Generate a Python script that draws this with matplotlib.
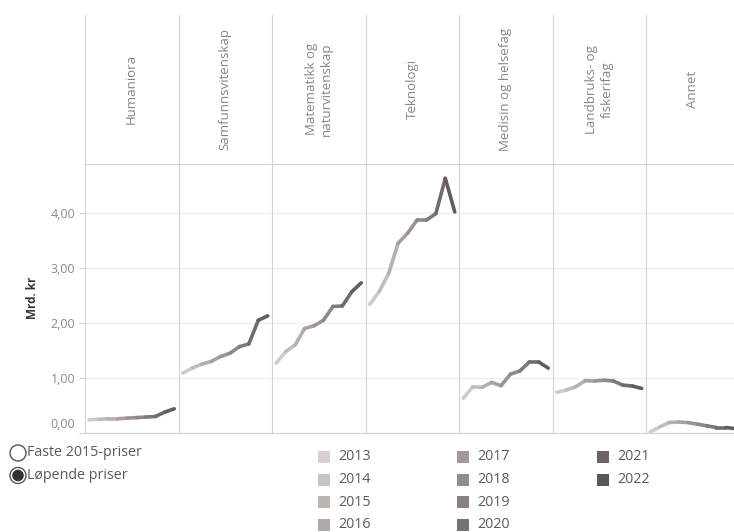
import numpy as np
import matplotlib.pyplot as plt
import matplotlib.colors as mcolors
from matplotlib.collections import LineCollection
from matplotlib.patches import Circle, Rectangle
from matplotlib.transforms import ScaledTranslation

plt.rcParams['font.family'] = ['Open Sans', 'DejaVu Sans']

# data (Mrd. kr, løpende priser)
years = ["2013", "2014", "2015", "2016", "2017", "2018", "2019", "2020", "2021", "2022"]
year_colors = ["#d8d0cd", "#cbc3c0", "#bdb5b2", "#b0a8a5", "#a39a98",
               "#958d8b", "#88807e", "#7a7271", "#6c6463", "#5e5655"]
fields = ["Humaniora", "Samfunnsvitenskap", "Matematikk og\nnaturvitenskap", "Teknologi",
          "Medisin og helsefag", "Landbruks- og\nfiskerifag", "Annet"]

humaniora = [0.24, 0.25, 0.26, 0.26, 0.27, 0.28, 0.29, 0.30, 0.38, 0.44]
samfunn = [1.09, 1.18, 1.25, 1.30, 1.39, 1.45, 1.57, 1.62, 2.05, 2.13]
matnat = [1.27, 1.48, 1.60, 1.90, 1.95, 2.05, 2.30, 2.31, 2.57, 2.73]
teknologi = [2.34, 2.57, 2.90, 3.45, 3.63, 3.87, 3.87, 3.99, 4.63, 4.02]
medisin = [0.63, 0.84, 0.83, 0.92, 0.86, 1.07, 1.13, 1.29, 1.29, 1.18]
landbruk = [0.74, 0.78, 0.84, 0.95, 0.945, 0.96, 0.945, 0.87, 0.855, 0.81]
annet = [0.02, 0.11, 0.19, 0.20, 0.19, 0.16, 0.13, 0.10, 0.10, 0.08]
values = [humaniora, samfunn, matnat, teknologi, medisin, landbruk, annet]

yticks = [0, 1, 2, 3, 4]
ytick_labels = ["0,00", "1,00", "2,00", "3,00", "4,00"]
price_options = ["Faste 2015-priser", "Løpende priser"]

W, H = 734, 532
fig = plt.figure(figsize=(W / 100, H / 100), dpi=100)


def fx(px):
    return px / W


def fy(py):
    return 1 - py / H


left0, pw = 85, 93.5
head_top, head_bot, plot_bot = 15, 163.5, 433
px_per_unit = 55
line_c = "#d4d4d4"
grid_c = "#efefef"

for i, (name, vals) in enumerate(zip(fields, values)):
    x0 = left0 + i * pw

    # header cell
    hax = fig.add_axes([fx(x0), fy(head_bot), pw / W, (head_bot - head_top) / H])
    hax.set_xticks([])
    hax.set_yticks([])
    for s in ["top", "right", "bottom"]:
        hax.spines[s].set_visible(False)
    hax.spines["left"].set_color(line_c)
    hax.text(0.5, 0.5, name, rotation=90, ha="center", va="center",
             multialignment="center", fontsize=9.5, color="#858585",
             linespacing=1.25, transform=hax.transAxes)

    # plot cell
    ax = fig.add_axes([fx(x0), fy(plot_bot), pw / W, (plot_bot - head_bot) / H])
    ax.set_xlim(-0.45, 9.45)
    ax.set_ylim(0, (plot_bot - head_bot) / px_per_unit)
    ax.set_xticks([])
    ax.set_yticks(yticks)
    ax.grid(axis="y", color=grid_c, lw=1)
    ax.set_axisbelow(True)
    ax.spines["right"].set_visible(False)
    for s in ["top", "left", "bottom"]:
        ax.spines[s].set_color(line_c)

    pts = np.column_stack([np.arange(len(vals)), vals])
    segs = np.stack([pts[:-1], pts[1:]], axis=1)
    seg_cols = [(np.array(mcolors.to_rgb(year_colors[k])) +
                 np.array(mcolors.to_rgb(year_colors[k + 1]))) / 2
                for k in range(len(vals) - 1)]
    lc = LineCollection(segs, colors=seg_cols, linewidths=2.6,
                        capstyle="round", joinstyle="round")
    ax.add_collection(lc)

    if i == 0:
        ax.set_yticklabels(ytick_labels, fontsize=9, color="#8a8a8a")
        ax.tick_params(axis="y", length=4, color=line_c, pad=3)
        lab0 = ax.get_yticklabels()[0]
        lab0.set_transform(lab0.get_transform() + ScaledTranslation(0, 0.1, fig.dpi_scale_trans))
        ax.set_ylabel("Mrd. kr", fontsize=8.5, fontweight="bold", color="#333333", labelpad=8)
    else:
        ax.tick_params(axis="y", length=0, labelleft=False)

# legend overlay in pixel coordinates
lax = fig.add_axes([0, 0, 1, 1])
lax.set_xlim(0, W)
lax.set_ylim(H, 0)
lax.axis("off")

for j, opt in enumerate(price_options):
    cy = 453 + j * 22.5
    lax.add_patch(Circle((18, cy), 8, fill=False, ec="#555555", lw=1))
    if j == 1:
        lax.add_patch(Circle((18, cy), 5.8, fc="#333333", ec="none"))
    lax.text(27, cy, opt, fontsize=10.3, color="#5a5a5a", va="center", ha="left")

col_x = [318, 457, 597]
for k, (yr, c) in enumerate(zip(years, year_colors)):
    col, row = divmod(k, 4)
    cy = 457 + row * 22.5
    lax.add_patch(Rectangle((col_x[col], cy - 6), 12, 12, fc=c, ec="none"))
    lax.text(col_x[col] + 20, cy, yr, fontsize=10.3, color="#5a5a5a", va="center", ha="left")

fig.savefig("out.png", dpi=100)
